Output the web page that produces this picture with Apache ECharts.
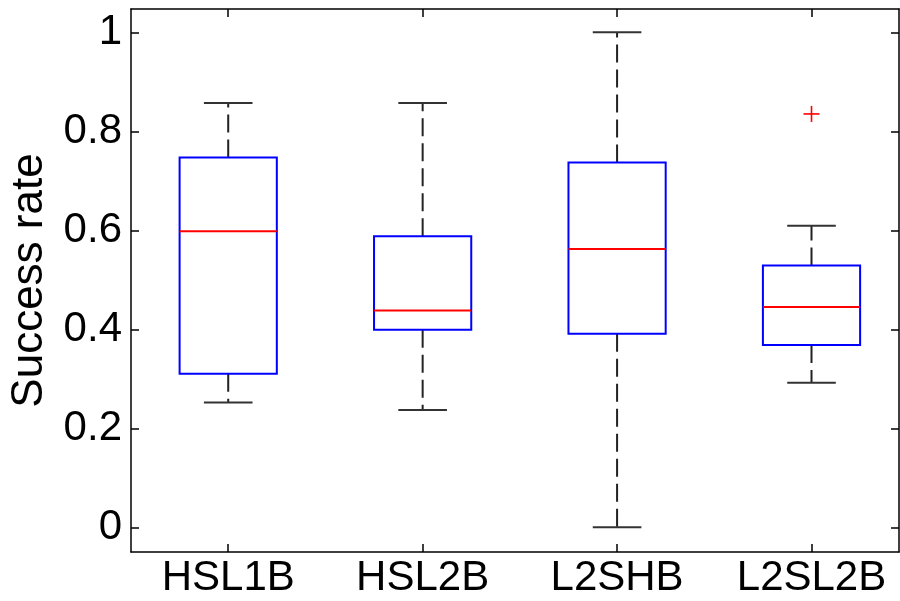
<html>
<head>
    <meta charset="UTF-8">
    <title>Success rate boxplot</title>
    <script src="https://cdn.jsdelivr.net/npm/echarts@6/dist/echarts.min.js"></script>
</head>
<body style="margin:0">
    <div id="container" style="width: 900px;height:601px;"></div>
<script>
    // categories and box statistics
    var categories = ['HSL1B', 'HSL2B', 'L2SHB', 'L2SL2B'];
    var lowWhisker = [0.252, 0.237, 0.000, 0.292];
    var q1 = [0.310, 0.399, 0.391, 0.368];
    var median = [0.598, 0.438, 0.562, 0.445];
    var q3 = [0.747, 0.588, 0.737, 0.529];
    var highWhisker = [0.857, 0.857, 1.000, 0.609];
    // outliers: [category index (1-based), value]
    var outliers = [[4, 0.835]];
    var yTicks = [0, 0.2, 0.4, 0.6, 0.8, 1];

    var boxes = [];
    for (var i = 0; i < categories.length; i++) {
        boxes.push([i + 1, lowWhisker[i], q1[i], median[i], q3[i], highWhisker[i]]);
    }

    var font = 'Liberation Sans, Arial, sans-serif';
    var mycharts = echarts.init(document.getElementById('container'));

    function renderBox(params, api) {
        var x = api.value(0);
        var unit = api.size([1, 0])[0];
        var bw = unit * 0.25, cw = unit * 0.125;
        var pLow = api.coord([x, api.value(1)]);
        var pQ1 = api.coord([x, api.value(2)]);
        var pMed = api.coord([x, api.value(3)]);
        var pQ3 = api.coord([x, api.value(4)]);
        var pHigh = api.coord([x, api.value(5)]);
        var cx = pMed[0];
        var dash = { stroke: '#222', lineWidth: 2, lineDash: [18, 7] };
        var solid = { stroke: '#333', lineWidth: 2 };
        return {
            type: 'group',
            children: [
                { type: 'line', shape: { x1: cx, y1: pQ3[1], x2: cx, y2: pHigh[1] }, style: dash },
                { type: 'line', shape: { x1: cx, y1: pQ1[1], x2: cx, y2: pLow[1] }, style: dash },
                { type: 'line', shape: { x1: cx - cw, y1: pHigh[1], x2: cx + cw, y2: pHigh[1] }, style: solid },
                { type: 'line', shape: { x1: cx - cw, y1: pLow[1], x2: cx + cw, y2: pLow[1] }, style: solid },
                { type: 'rect', shape: { x: cx - bw, y: pQ3[1], width: 2 * bw, height: pQ1[1] - pQ3[1] },
                  style: { fill: null, stroke: '#0000ff', lineWidth: 2 } },
                { type: 'line', shape: { x1: cx - bw, y1: pMed[1], x2: cx + bw, y2: pMed[1] },
                  style: { stroke: '#ff0000', lineWidth: 2 } }
            ]
        };
    }

    function renderOutlier(params, api) {
        var p = api.coord([api.value(0), api.value(1)]);
        var s = 8;
        var st = { stroke: '#ff0000', lineWidth: 1.6 };
        return {
            type: 'group',
            children: [
                { type: 'line', shape: { x1: p[0] - s, y1: p[1], x2: p[0] + s, y2: p[1] }, style: st },
                { type: 'line', shape: { x1: p[0], y1: p[1] - s, x2: p[0], y2: p[1] + s }, style: st }
            ]
        };
    }

    var axisLine = { show: true, onZero: false, lineStyle: { color: '#000', width: 1.5 } };
    var tick = { show: true, inside: true, length: 8, lineStyle: { color: '#000', width: 1.5 } };

    var option = {
        animation: false,
        backgroundColor: '#fff',
        grid: { left: 129, right: 1, top: 9, bottom: 49 },
        xAxis: [{
            type: 'value', min: 0.5, max: 4.45, position: 'bottom',
            axisLine: axisLine,
            axisTick: Object.assign({ customValues: [1, 2, 3, 4] }, tick),
            axisLabel: {
                customValues: [1, 2, 3, 4], color: '#000', fontSize: 42, fontFamily: font, margin: 5,
                formatter: function (v) { return categories[Math.round(v) - 1]; }
            },
            splitLine: { show: false }
        }, {
            type: 'value', min: 0.5, max: 4.45, position: 'top',
            axisLine: axisLine,
            axisTick: Object.assign({ customValues: [1, 2, 3, 4] }, tick),
            axisLabel: { show: false },
            splitLine: { show: false }
        }],
        yAxis: [{
            type: 'value', min: -0.05, max: 1.047, position: 'left',
            name: 'Success rate', nameLocation: 'middle', nameGap: 79,
            nameTextStyle: { color: '#000', fontSize: 44, fontFamily: font },
            axisLine: axisLine,
            axisTick: Object.assign({ customValues: yTicks }, tick),
            axisLabel: { customValues: yTicks, color: '#000', fontSize: 42, fontFamily: font, margin: 9 },
            splitLine: { show: false }
        }, {
            type: 'value', min: -0.05, max: 1.047, position: 'right',
            axisLine: axisLine,
            axisTick: Object.assign({ customValues: yTicks }, tick),
            axisLabel: { show: false },
            splitLine: { show: false }
        }],
        series: [{
            type: 'custom',
            renderItem: renderBox,
            data: boxes,
            encode: { x: 0, y: [1, 2, 3, 4, 5] },
            clip: false
        }, {
            type: 'custom',
            renderItem: renderOutlier,
            data: outliers,
            encode: { x: 0, y: 1 }
        }]
    };

    mycharts.setOption(option);
</script>
</body>
</html>
